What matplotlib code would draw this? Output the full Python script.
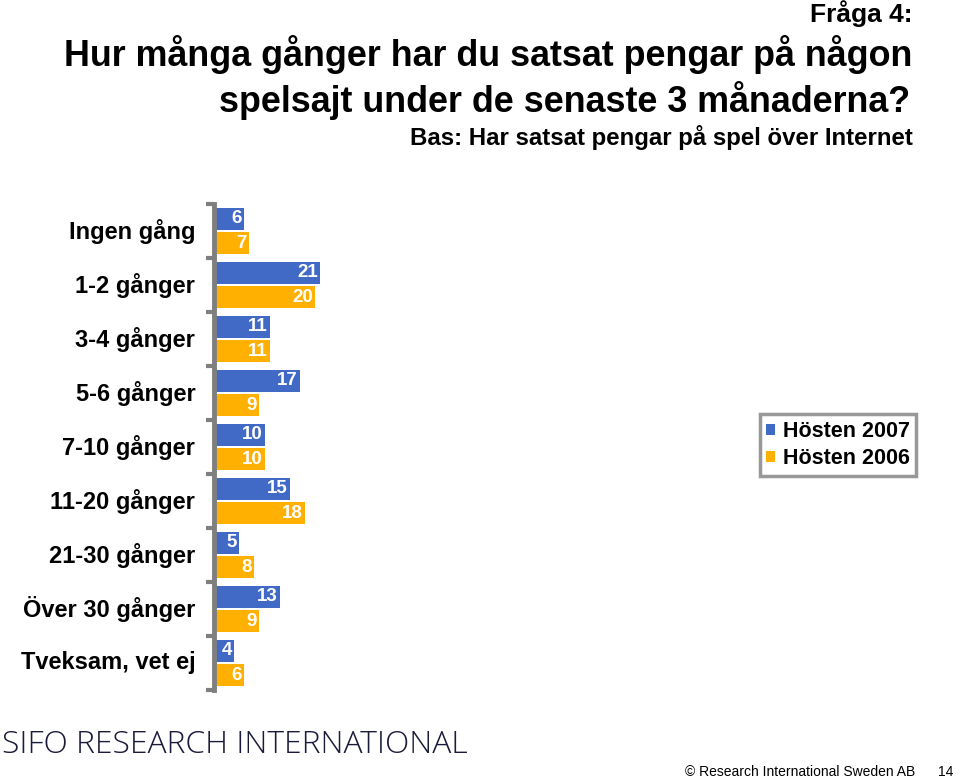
import matplotlib.pyplot as plt
import numpy as np

plt.rcParams['font.family'] = ['Liberation Sans', 'DejaVu Sans']

categories = ["Ingen gång", "1-2 gånger", "3-4 gånger", "5-6 gånger", "7-10 gånger",
              "11-20 gånger", "21-30 gånger", "Över 30 gånger", "Tveksam, vet ej"]
hosten_2007 = [6, 21, 11, 17, 10, 15, 5, 13, 4]
hosten_2006 = [7, 20, 11, 9, 10, 18, 8, 9, 6]
series_names = ["Hösten 2007", "Hösten 2006"]

BLUE = "#4169C6"
ORANGE = "#FFB000"

fig = plt.figure(figsize=(9.59, 7.8), dpi=100)

# axes: x from 214px, 5.05 px per unit; y from 204px to 690px
xmax = 22
ax = fig.add_axes([214 / 959, (780 - 690) / 780, xmax * 5.05 / 959, (690 - 204) / 780])

n = len(categories)
pos = np.arange(n) + 0.5
h = 0.41
ax.barh(pos - 0.225, hosten_2007, height=h, color=BLUE, label=series_names[0])
ax.barh(pos + 0.225, hosten_2006, height=h, color=ORANGE, label=series_names[1])

for y, v in zip(pos - 0.225, hosten_2007):
    ax.text(v - 0.45, y, str(v), color="white", fontsize=13.5, fontweight="bold",
            ha="right", va="center")
for y, v in zip(pos + 0.225, hosten_2006):
    ax.text(v - 0.45, y, str(v), color="white", fontsize=13.5, fontweight="bold",
            ha="right", va="center")

ax.set_xlim(0, xmax)
ax.set_ylim(n, 0)
ax.set_xticks([])
ax.set_yticks(np.arange(n + 1))
ax.set_yticklabels([])
ax.tick_params(axis="y", direction="out", length=6, width=3, color="#7f7f7f")
for s in ["top", "right", "bottom"]:
    ax.spines[s].set_visible(False)
ax.spines["left"].set_color("#7f7f7f")
ax.spines["left"].set_linewidth(3.5)
ax.patch.set_alpha(0)

for y, c in zip(pos, categories):
    ax.text(-3.7, y, c, fontsize=17, fontweight="bold", ha="right", va="center")

leg = ax.legend(loc="center left", bbox_to_anchor=((760 - 214) / (xmax * 5.05), 1 - (445 - 204) / 486),
                frameon=True, fancybox=False, edgecolor="#7f7f7f",
                prop={"size": 15.5, "weight": "bold"}, borderaxespad=0,
                handlelength=0.4, handleheight=0.4, handletextpad=0.35, borderpad=0.3,
                labelspacing=0.3)
leg.get_frame().set_linewidth(2.5)

fig.text(913 / 959, 1 - 14 / 780, "Fråga 4:", fontsize=19, fontweight="bold",
         ha="right", va="center")
fig.text(912 / 959, 1 - 55 / 780, "Hur många gånger har du satsat pengar på någon",
         fontsize=25.8, fontweight="bold", ha="right", va="center")
fig.text(910 / 959, 1 - 101 / 780, "spelsajt under de senaste 3 månaderna?",
         fontsize=25.8, fontweight="bold", ha="right", va="center")
fig.text(913 / 959, 1 - 137 / 780, "Bas: Har satsat pengar på spel över Internet",
         fontsize=17.3, fontweight="bold", ha="right", va="center")

fig.text(2 / 959, 1 - 745 / 780, "SIFO RESEARCH INTERNATIONAL", fontsize=22.9,
         family=["Open Sans", "DejaVu Sans"], fontweight="light", color="#1a1a3a",
         ha="left", va="center")
fig.text(915 / 959, 1 - 772 / 780, "© Research International Sweden AB", fontsize=10,
         ha="right", va="center")
fig.text(953 / 959, 1 - 772 / 780, "14", fontsize=10, ha="right", va="center")

fig.savefig("out.png", dpi=100)
